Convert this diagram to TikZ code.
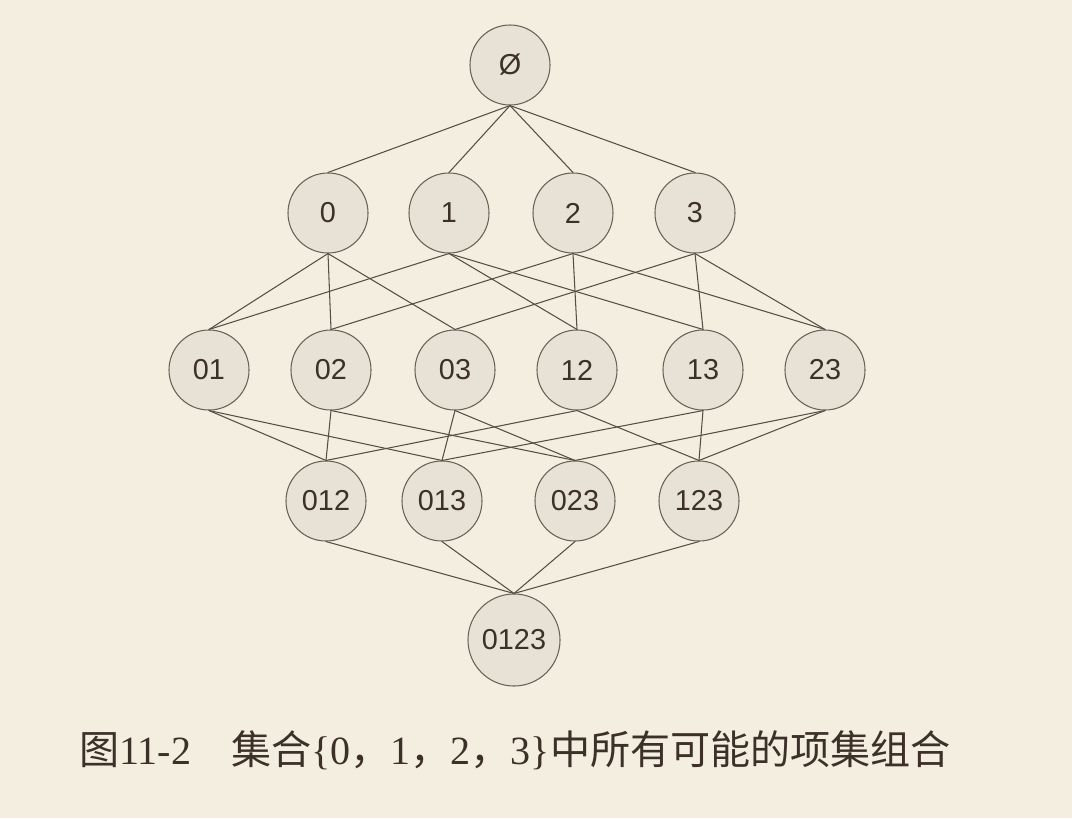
\documentclass[tikz,border=0pt]{standalone}
\usepackage{fontspec}
\setmainfont{Liberation Serif}
\setsansfont{Liberation Sans}
\newfontfamily\cjk{Noto Sans CJK SC}
\definecolor{paper}{HTML}{F4EEE1}
\definecolor{disc}{HTML}{E8E2D6}
\definecolor{rim}{HTML}{6A6057}
\definecolor{wire}{HTML}{574D45}
\definecolor{ink}{HTML}{3C3028}
\begin{document}
\begin{tikzpicture}[x=.025cm,y=-.025cm,line cap=round,
  itemset/.style={circle,draw=rim,fill=disc,line width=.75pt,minimum size=2cm,inner sep=0pt,
    text=ink,font=\sffamily\fontsize{20.5}{20.5}\selectfont},
  link/.style={draw=wire,line width=.75pt}]
  \fill[paper] (0,0) rectangle (1072,818);
  % the lattice of all itemsets, one row per size
  \node[itemset] (sE) at (510,65) {Ø};
  \node[itemset] (s0) at (328,213) {0};
  \node[itemset] (s1) at (449,213) {1};
  \node[itemset] (s2) at (573,213) {2};
  \node[itemset] (s3) at (695,213) {3};
  \node[itemset] (s01) at (209,370) {01};
  \node[itemset] (s02) at (331,370) {02};
  \node[itemset] (s03) at (455,370) {03};
  \node[itemset] (s12) at (577,370) {12};
  \node[itemset] (s13) at (703,370) {13};
  \node[itemset] (s23) at (825,370) {23};
  \node[itemset] (s012) at (326,501) {012};
  \node[itemset] (s013) at (442,501) {013};
  \node[itemset] (s023) at (575,501) {023};
  \node[itemset] (s123) at (699,501) {123};
  \node[itemset,minimum size=2.3cm] (s0123) at (514,640) {0123};
  \foreach \a/\b in {E/0,E/1,E/2,E/3,
      0/01,0/02,0/03,1/01,1/12,1/13,2/02,2/12,2/23,3/03,3/13,3/23,
      01/012,01/013,02/012,02/023,03/013,03/023,12/012,12/123,13/013,13/123,23/023,23/123,
      012/0123,013/0123,023/0123,123/0123}
    \draw[link] (s\a.south) -- (s\b.north);
  \node[text=ink,font=\fontsize{28.5}{28.5}\selectfont] (caption) at (515,750)
    {{\cjk 图}11-2\quad{\cjk 集合}\{0{\cjk ，}1{\cjk ，}2{\cjk ，}3\}{\cjk 中所有可能的项集组合}};
\end{tikzpicture}
\end{document}
